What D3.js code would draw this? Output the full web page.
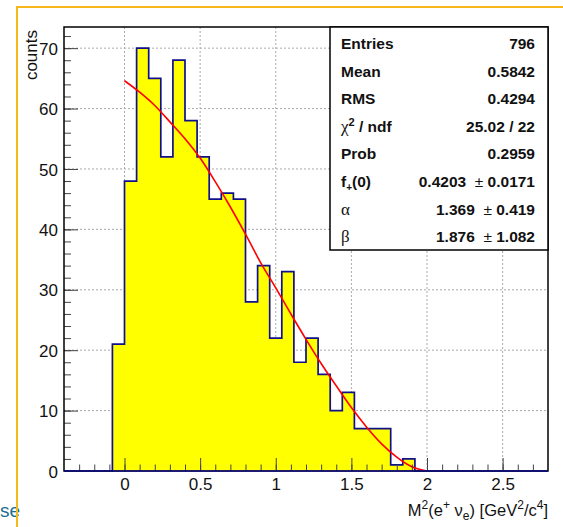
<!DOCTYPE html>
<html>
<head>
<meta charset="utf-8">
<script src="https://cdn.jsdelivr.net/npm/d3@7"></script>
<style>
body { margin: 0; background: #fff; }
text { font-family: "Liberation Sans", Arial, Helvetica, sans-serif; }
</style>
</head>
<body>
<div id="chart-area"></div>
<script>
// DATA
var binStart = -0.4;   // first bin low edge
var binWidth = 0.08;
var counts = [0, 0, 0, 0, 21, 48, 70, 65, 52, 68, 58, 52, 45, 46, 45, 28, 34, 22, 33, 18,
              22, 16, 10, 13, 7, 7, 7, 1, 2, 0, 0, 0, 0, 0, 0, 0, 0, 0, 0, 0];

// fitted curve
var fitX = [0, 0.1, 0.2, 0.3, 0.4, 0.5, 0.6, 0.7, 0.8, 0.9, 1.0, 1.1, 1.2, 1.3, 1.4, 1.5, 1.6, 1.7, 1.8, 1.9, 2.0];
var fitY = [64.6, 62.7, 60.5, 57.8, 55.0, 51.8, 47.9, 43.7, 39.2, 34.5, 30.3, 26.0, 21.8, 17.8, 14.1, 10.5, 7.3, 4.5, 2.3, 0.7, 0];

var xTicks = [0, 0.5, 1, 1.5, 2, 2.5];
var xTickLabels = ["0", "0.5", "1", "1.5", "2", "2.5"];
var yTicks = [0, 10, 20, 30, 40, 50, 60, 70];

var statLabels = ["Entries", "Mean", "RMS", "chi2", "Prob", "fplus", "α", "β"];
var statValues = ["796", "0.5842", "0.4294", "25.02 / 22", "0.2959", "0.4203", "1.369", "1.876"];
var statErrors = [null, null, null, null, null, "0.0171", "0.419", "1.082"];

var W = 563, H = 527;
var margin = { left: 64, top: 27, right: 15, bottom: 56 };
var width = W - margin.left - margin.right,
    height = H - margin.top - margin.bottom;

var svg = d3.select("#chart-area").append("svg")
    .attr("width", W)
    .attr("height", H);

// Scales
var x = d3.scaleLinear().domain([-0.4, 2.8]).range([0, width]);
var y = d3.scaleLinear().domain([0, 73.5]).range([height, 0]);

var g = svg.append("g")
    .attr("transform", "translate(" + margin.left + "," + margin.top + ")");

// grid (dotted)
g.append("g").selectAll("line").data(xTicks).enter().append("line")
    .attr("x1", d => x(d)).attr("x2", d => x(d))
    .attr("y1", 0).attr("y2", height)
    .attr("stroke", "#aaa").attr("stroke-dasharray", "2,2");
g.append("g").selectAll("line").data(yTicks.slice(1)).enter().append("line")
    .attr("x1", 0).attr("x2", width)
    .attr("y1", d => y(d)).attr("y2", d => y(d))
    .attr("stroke", "#aaa").attr("stroke-dasharray", "2,2");

// histogram as step path
var bins = counts.map((c, i) => ({ x0: binStart + i * binWidth, x1: binStart + (i + 1) * binWidth, c: c }));
var pts = [];
bins.forEach(b => { pts.push([x(b.x0), y(b.c)]); pts.push([x(b.x1), y(b.c)]); });
var area = "M" + x(binStart) + "," + y(0) + "L" + pts.map(p => p.join(",")).join("L") +
    "L" + x(bins[bins.length - 1].x1) + "," + y(0) + "Z";
g.append("path")
    .attr("d", area)
    .attr("fill", "#ffff00")
    .attr("stroke", "none");
g.append("path")
    .attr("d", "M" + x(binStart) + "," + y(0) + "L" + pts.map(p => p.join(",")).join("L"))
    .attr("fill", "none")
    .attr("stroke", "#10108a")
    .attr("stroke-width", 1.7);

// fit line
var line = d3.line()
    .x((d, i) => x(fitX[i]))
    .y(d => y(d))
    .curve(d3.curveMonotoneX);
g.append("path")
    .datum(fitY)
    .attr("d", line)
    .attr("fill", "none")
    .attr("stroke", "#ff0000")
    .attr("stroke-width", 1.6);

// axes (ROOT style: ticks inside)
var xMinor = g.append("g").attr("transform", "translate(0," + height + ")")
    .call(d3.axisBottom(x).tickValues(d3.range(-3, 28).map(d => d / 10)).tickSize(-6.5).tickFormat(""));
var xMajor = g.append("g").attr("transform", "translate(0," + height + ")")
    .call(d3.axisBottom(x).tickValues(xTicks).tickSize(-13).tickPadding(5)
        .tickFormat((d, i) => xTickLabels[i]));
var yMinor = g.append("g")
    .call(d3.axisLeft(y).tickValues(d3.range(0, 74, 2)).tickSize(-7).tickFormat(""));
var yMajor = g.append("g")
    .call(d3.axisLeft(y).tickValues(yTicks).tickSize(-14).tickPadding(6));

[xMinor, xMajor, yMinor, yMajor].forEach(a => {
    a.select(".domain").remove();
    a.selectAll(".tick line").attr("stroke", "#444").attr("stroke-width", 1);
    a.selectAll("text").attr("font-size", "17px").attr("fill", "#111")
        .style("font-family", "'Liberation Sans', Arial, sans-serif");
});
xMajor.selectAll("text").attr("dy", "0.85em");
yMajor.selectAll("text").attr("dy", "0.36em");

// frame
g.append("rect")
    .attr("width", width).attr("height", height)
    .attr("fill", "none").attr("stroke", "#000").attr("stroke-width", 1.5);
// histogram baseline over the frame bottom
g.append("line")
    .attr("x1", 0).attr("x2", width).attr("y1", height).attr("y2", height)
    .attr("stroke", "#10108a").attr("stroke-width", 1.7);

// Axis titles
svg.append("text")
    .attr("transform", "translate(37,30) rotate(-90)")
    .attr("text-anchor", "end")
    .attr("font-size", "17px")
    .attr("fill", "#111")
    .text("counts");

var xt = svg.append("text")
    .attr("x", margin.left + width)
    .attr("y", 516)
    .attr("text-anchor", "end")
    .attr("font-size", "16.5px")
    .attr("fill", "#111");
xt.append("tspan").text("M");
xt.append("tspan").attr("dy", -7).attr("font-size", "12px").text("2");
xt.append("tspan").attr("dy", 7).text("(e");
xt.append("tspan").attr("dy", -7).attr("font-size", "12px").text("+");
xt.append("tspan").attr("dy", 7).text(" ν");
xt.append("tspan").attr("dy", 4).attr("font-size", "12px").text("e");
xt.append("tspan").attr("dy", -4).text(") [GeV");
xt.append("tspan").attr("dy", -7).attr("font-size", "12px").text("2");
xt.append("tspan").attr("dy", 7).text("/c");
xt.append("tspan").attr("dy", -7).attr("font-size", "12px").text("4");
xt.append("tspan").attr("dy", 7).text("]");

// Stats box
var box = { x0: 330, y0: 27, x1: 548, y1: 250 };
svg.append("rect")
    .attr("x", box.x0).attr("y", box.y0)
    .attr("width", box.x1 - box.x0).attr("height", box.y1 - box.y0)
    .attr("fill", "#fff").attr("stroke", "#000").attr("stroke-width", 1.5);

var rowH = 27.6, firstRow = 43.5, fs = "15.5px";
statLabels.forEach((lab, i) => {
    var cy = firstRow + i * rowH + 5.5;
    var t = svg.append("text").attr("x", 341).attr("y", cy).attr("font-size", fs)
        .attr("font-weight", "bold").attr("fill", "#111");
    if (lab === "chi2") {
        t.append("tspan").attr("font-family", "'Liberation Serif', serif").attr("font-weight", "normal").attr("font-size", "17px").text("χ");
        t.append("tspan").attr("dy", -6).attr("font-size", "11px").text("2");
        t.append("tspan").attr("dy", 6).text(" / ndf");
    } else if (lab === "fplus") {
        t.append("tspan").text("f");
        t.append("tspan").attr("dy", 4).attr("font-size", "10px").text("+");
        t.append("tspan").attr("dy", -4).text("(0)");
    } else if (lab === "α" || lab === "β") {
        t.attr("font-family", "'Liberation Serif', serif").attr("font-weight", "normal")
            .style("font-family", "'Liberation Serif', serif").attr("font-size", "17px").text(lab);
    } else {
        t.text(lab);
    }
    var v = svg.append("text").attr("x", 535).attr("y", cy).attr("font-size", fs)
        .attr("text-anchor", "end").attr("font-weight", "bold").attr("fill", "#111");
    v.append("tspan").text(statValues[i]);
    if (statErrors[i]) {
        v.append("tspan").attr("font-weight", "normal").text("\u00a0\u00a0±\u00a0");
        v.append("tspan").text(statErrors[i]);
    }
});

// partial text at the bottom-left, under the orange frame
svg.append("text")
    .attr("x", 0).attr("y", 517)
    .attr("font-size", "19px")
    .attr("fill", "#1d6f91")
    .text("se");
svg.append("rect")
    .attr("x", 17).attr("y", 7)
    .attr("width", 600).attr("height", 600)
    .attr("fill", "#fff")
    .attr("fill-opacity", 0)
    .attr("stroke", "#f6b81a")
    .attr("stroke-width", 2);
</script>
</body>
</html>
